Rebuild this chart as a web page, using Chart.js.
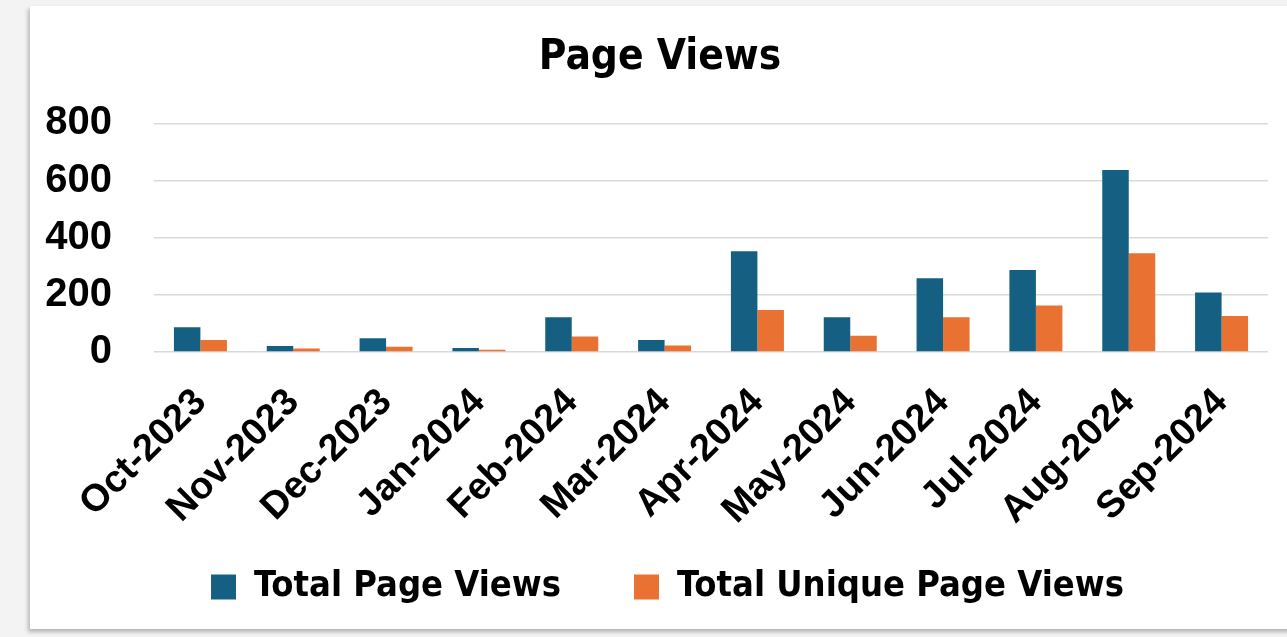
<!DOCTYPE html>
<html>
<head>
<meta charset="utf-8">
<script src="https://cdn.jsdelivr.net/npm/chart.js@4.4.0/dist/chart.umd.min.js"></script>
<style>
  html, body { margin: 0; padding: 0; background: #f3f3f3; width: 1287px; height: 637px; overflow: hidden; }
  #card { position: absolute; left: 30px; top: 6px; width: 1270px; height: 623px; background: #ffffff;
          box-shadow: -2px 3px 4px rgba(0,0,0,0.25); }
  #wrap { position: absolute; left: 0; top: 0; width: 1287px; height: 637px; }
</style>
</head>
<body>
<div id="card"></div>
<div id="wrap"><canvas id="c" width="1287" height="637"></canvas></div>
<script>
const categories = ["Oct-2023","Nov-2023","Dec-2023","Jan-2024","Feb-2024","Mar-2024","Apr-2024","May-2024","Jun-2024","Jul-2024","Aug-2024","Sep-2024"];
const totalPageViews = [87, 21, 48, 14, 122, 42, 353, 122, 258, 287, 637, 208];
const totalUniquePageViews = [42, 12, 18, 8, 54, 23, 147, 57, 122, 163, 346, 126];
const yTicks = [0, 200, 400, 600, 800];

const narrow = "'DejaVu Sans', sans-serif";
const sans = "'Liberation Sans', Arial, sans-serif";

const LEGEND_PAD = 73;
const LEGEND_FONT = 36;
const LEGEND_BOX_H = 77;          // layout height reserved for the legend
const LEGEND_TEXT_CENTER = 587;   // where the legend row is centred
const LEGEND_LEFT = 67;           // shifts the centred legend row to match
const TITLE_LEFT = 52;

const layoutTweaks = {
  id: 'layoutTweaks',
  beforeUpdate(chart) {
    const lg = chart.legend;
    if (lg && !lg._patched) {
      lg._patched = true;
      const fit = lg.fit;
      lg.fit = function () { fit.call(this); this.height = LEGEND_BOX_H; };
    }
  },
  afterLayout(chart) {
    if (chart.legend) {
      chart.legend.left = LEGEND_LEFT;
      chart.legend.top = LEGEND_TEXT_CENTER - LEGEND_PAD - LEGEND_FONT / 2;
    }
    if (chart.titleBlock) chart.titleBlock.left = TITLE_LEFT;
  }
};

new Chart(document.getElementById('c'), {
  type: 'bar',
  data: {
    labels: categories,
    datasets: [
      { label: 'Total Page Views', data: totalPageViews, backgroundColor: '#156082', categoryPercentage: 0.571, barPercentage: 1.0 },
      { label: 'Total Unique Page Views', data: totalUniquePageViews, backgroundColor: '#E97132', categoryPercentage: 0.571, barPercentage: 1.0 }
    ]
  },
  plugins: [layoutTweaks],
  options: {
    responsive: false,
    animation: false,
    layout: { padding: { left: 0, right: 19, top: 0, bottom: 0 } },
    plugins: {
      title: {
        display: true, text: 'Page Views', color: '#000',
        font: { family: narrow, size: 42, weight: 'condensed bold' },
        padding: { top: 33, bottom: 40 }
      },
      legend: {
        position: 'bottom',
        labels: {
          color: '#000', font: { family: narrow, size: LEGEND_FONT, weight: 'condensed bold' },
          boxWidth: 25, boxHeight: 25, padding: LEGEND_PAD, useBorderRadius: false
        }
      },
      tooltip: { enabled: false }
    },
    scales: {
      x: {
        grid: { display: false },
        border: { display: false },
        ticks: { color: '#000', font: { family: sans, size: 38, weight: 'bold' }, minRotation: 45, maxRotation: 45, padding: 20 },
        afterFit: (s) => { s.height = 637 - LEGEND_BOX_H - 352; }
      },
      y: {
        min: 0, max: 800,
        afterBuildTicks: (s) => { s.ticks = yTicks.map(v => ({ value: v })); },
        grid: { color: '#d9d9d9', lineWidth: 1.5, drawTicks: false },
        border: { display: false },
        ticks: { color: '#000', font: { family: sans, size: 40, weight: 'bold' }, padding: 42 },
        afterFit: (s) => { s.width = 154; }
      }
    }
  }
});
</script>
</body>
</html>
